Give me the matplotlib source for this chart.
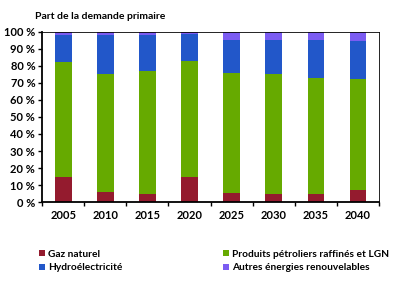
import matplotlib
matplotlib.use("Agg")
import matplotlib.pyplot as plt
import numpy as np
from matplotlib.patches import Patch

years = ["2005", "2010", "2015", "2020", "2025", "2030", "2035", "2040"]
gaz = [14.5, 6, 5, 14.5, 5.5, 5, 5, 7]
petrole = [67.5, 69, 72, 68.5, 70.5, 70, 68, 65.5]
hydro = [16, 23, 21, 15.5, 19, 20.5, 22, 22]
autres = [2, 2, 2, 1.5, 5, 4.5, 5, 5.5]

series_names = ["Gaz naturel", "Produits pétroliers raffinés et LGN",
                "Hydroélectricité", "Autres énergies renouvelables"]
colors = ["#941B2E", "#66AA00", "#2257C9", "#7B5CF2"]
yticks = [0, 10, 20, 30, 40, 50, 60, 70, 80, 90, 100]

plt.rcParams['font.family'] = ['Lato', 'DejaVu Sans']
plt.rcParams['font.weight'] = 'bold'

fig = plt.figure(figsize=(3.97, 2.95), dpi=100)
ax = fig.add_axes([0.106, 0.315, 0.849, 0.577])

x = np.arange(len(years))
bottom = np.zeros(len(years))
for vals, c in zip([gaz, petrole, hydro, autres], colors):
    ax.bar(x, vals, bottom=bottom, width=0.4, color=c, edgecolor='none')
    bottom += np.array(vals)

ax.set_xlim(-0.5, len(years) - 0.5)
ax.set_ylim(0, 100)
ax.set_yticks(yticks)
ax.set_yticklabels([f"{v} %" for v in yticks], fontsize=8, fontweight='bold')
ax.set_xticks(x)
ax.set_xticklabels(years, fontsize=8, fontweight='bold')
ax.tick_params(axis='x', length=0, pad=6)
ax.set_xticks(np.arange(-0.5, len(years)), minor=True)
ax.tick_params(axis='x', which='minor', length=3, direction='out', width=1)
ax.tick_params(axis='y', length=3, direction='out', width=1, pad=2)
for s in ['left', 'bottom']:
    ax.spines[s].set_linewidth(1.3)
for s in ['top', 'right']:
    ax.spines[s].set_linewidth(0.6)

fig.text(0.088, 0.945, "Part de la demande primaire", fontsize=7.5, fontweight='bold',
         va='center', ha='left')

handles = [Patch(facecolor=c, edgecolor='none') for c in colors]
order = [0, 2, 1, 3]
leg = fig.legend([handles[i] for i in order], [series_names[i] for i in order],
                 ncol=2, loc='center left', bbox_to_anchor=(0.075, 0.115),
                 frameon=False, fontsize=7.3, handlelength=0.6, handleheight=0.6,
                 handletextpad=0.3, columnspacing=9.9, labelspacing=0.45)
for t in leg.get_texts():
    t.set_fontweight('bold')

fig.savefig("out.png", dpi=100)
